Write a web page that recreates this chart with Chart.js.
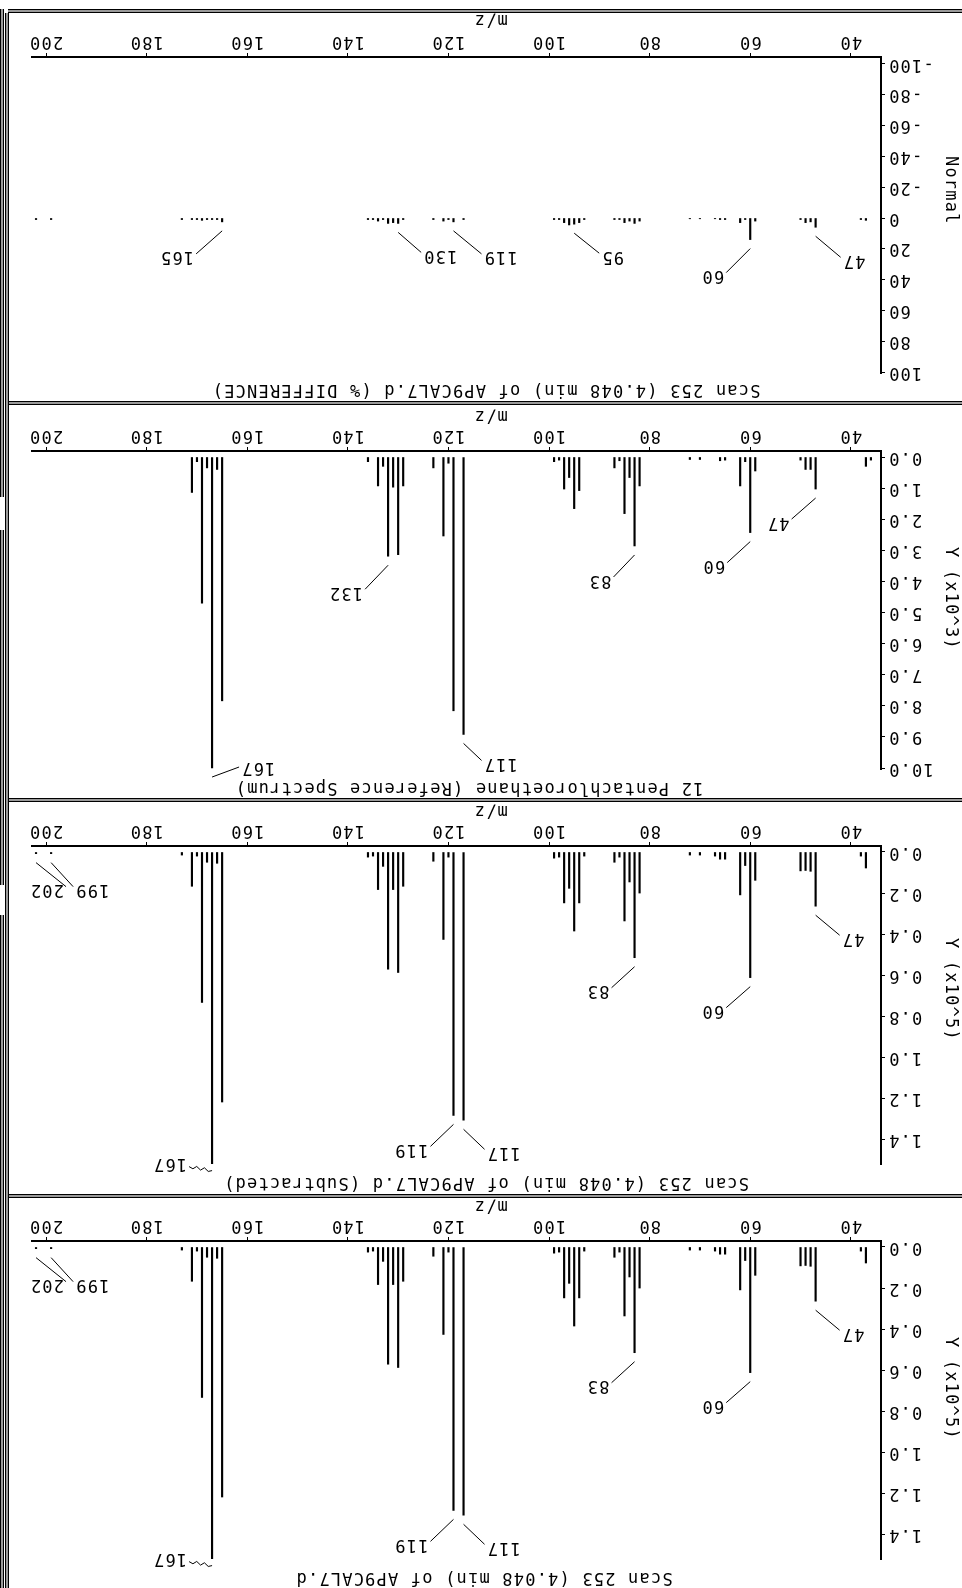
<!DOCTYPE html>
<html>
<head>
<meta charset="utf-8">
<title>Scan 253 - Pentachloroethane</title>
<script src="https://cdn.jsdelivr.net/npm/chart.js@4.4.1/dist/chart.umd.min.js"></script>
<style>
  html, body { margin: 0; padding: 0; background: #fff; }
  /* the whole printout is upside down, so the page is drawn normally and turned */
  #page { position: relative; width: 962px; height: 1588px; transform: rotate(180deg); background: #fff; overflow: hidden; }
  #page canvas { position: absolute; left: 0; }
  .hline { position: absolute; left: 0; width: 954px; height: 2px; border-top: 1px solid #000; border-bottom: 1px solid #000; background: #9a9a9a; }
  .vline { position: absolute; width: 2px; border-left: 1px solid #000; border-right: 1px solid #000; background: #9a9a9a; }
</style>
</head>
<body>
<div id="page">
  <canvas id="scan" width="962" height="395" style="top:0px"></canvas>
  <canvas id="subtracted" width="962" height="395" style="top:395px"></canvas>
  <canvas id="reference" width="962" height="395" style="top:790px"></canvas>
  <canvas id="difference" width="962" height="393" style="top:1186px"></canvas>

  <div class="hline" style="top:390px"></div>
  <div class="hline" style="top:786px"></div>
  <div class="hline" style="top:1183px"></div>
  <div class="hline" style="top:1575px"></div>
  <div class="vline" style="left:953px; top:0px; height:1575px"></div>
  <div class="vline" style="left:958px; top:0px; height:673px"></div>
  <div class="vline" style="left:958px; top:703px; height:355px"></div>
  <div class="vline" style="left:958px; top:1091px; height:488px"></div>
</div>

<script>
// m/z of every peak shown in any of the four panels
const mz = [36, 37, 38, 47, 48, 49, 50, 58, 59, 60, 61, 62, 65, 66, 67, 70, 72,
            82, 83, 84, 85, 86, 87, 93, 94, 95, 96, 97, 98, 99,
            117, 119, 120, 121, 123, 129, 130, 131, 132, 133, 134, 135, 136,
            165, 166, 167, 168, 169, 170, 171, 173, 199, 202];

// Scan 253 (4.048 min) of AP9CAL7.d, abundance
const scanValues = [0, 7800, 2000, 26400, 9400, 9000, 9200, 0, 13800, 61200, 6600, 20900, 3500, 3500, 2000, 1500, 1500,
                    20000, 51500, 14600, 33600, 2500, 5000, 2000, 24800, 38500, 17700, 24800, 2500, 3000,
                    130700, 128300, 2500, 42600, 4500, 16700, 58700, 18300, 57100, 7000, 18300, 2000, 2500,
                    121800, 5500, 151800, 5000, 73300, 2000, 16700, 1500, 800, 800];

// same scan, background subtracted
const subtractedValues = [0, 7800, 2000, 26400, 9400, 9000, 9200, 0, 13800, 61200, 6600, 20900, 3500, 3500, 2000, 1500, 1500,
                          20000, 51500, 14600, 33600, 2500, 5000, 2000, 24800, 38500, 17700, 24800, 2500, 3000,
                          130700, 128300, 2500, 42600, 4500, 16700, 58700, 18300, 57100, 7000, 18300, 2000, 2500,
                          121800, 5500, 151800, 5000, 73300, 2000, 16700, 1500, 800, 800];

// 12 Pentachloroethane, library reference spectrum
const referenceValues = [100, 300, 0, 1030, 400, 400, 100, 0, 450, 2430, 150, 930, 100, 120, 0, 80, 80,
                         930, 2860, 660, 1820, 120, 350, 0, 1080, 1660, 660, 1030, 100, 150,
                         8920, 8160, 200, 2540, 350, 930, 3140, 970, 3190, 300, 930, 0, 150,
                         7840, 400, 10000, 350, 4700, 150, 1140, 0, 0, 0];

// % difference between scan and reference
const differenceValues = [0, 1.5, 1, 6, 2.5, 3, 1, 0, 2, 14, 1, 3, 1, 1, 0.5, 0.5, 0.5,
                          2, 3.5, 2, 3, 1, 1, 1, 3, 4, 4.5, 3, 1, 1,
                          1, 2.5, 1, 2, 1, 1, 3.5, 3, 3.5, 1, 2, 1, 1,
                          2.5, 1, 1, 1, 1.5, 1, 1, 1, 1, 1];

const xTicks = [40, 60, 80, 100, 120, 140, 160, 180, 200];
const yTicksScan = [0, 20000, 40000, 60000, 80000, 100000, 120000, 140000];
const yTicksRef = [0, 1000, 2000, 3000, 4000, 5000, 6000, 7000, 8000, 9000, 10000];
const yTicksDiff = [-100, -80, -60, -40, -20, 0, 20, 40, 60, 80, 100];

// which peaks carry an m/z label, and where the leader goes
const scanLabels = [
  { mz: 47, dx: -24, dy: -20, align: 'right' },
  { mz: 60, dx: 24, dy: -21, align: 'left' },
  { mz: 83, dx: 23, dy: -21, align: 'left' },
  { mz: 117, dx: -21, dy: -20, align: 'right' },
  { mz: 119, dx: 23, dy: -22, align: 'left' },
  { mz: 167, dx: 23, dy: 4, align: 'left', gap: 7, ty: 3, wavy: true },
  { mz: 199, dx: -22, dy: -24, align: 'right' },
  { mz: 202, dx: -30, dy: -24, align: 'left' }
];
const refLabels = [
  { mz: 47, dx: 24, dy: -21, align: 'left' },
  { mz: 60, dx: 23, dy: -21, align: 'left' },
  { mz: 83, dx: 21, dy: -22, align: 'left' },
  { mz: 117, dx: -18, dy: -17, align: 'right' },
  { mz: 132, dx: 23, dy: -24, align: 'left' },
  { mz: 167, dx: -27, dy: 10, align: 'right', ty: 0 }
];
const diffLabels = [
  { mz: 47, dx: -25, dy: -21, align: 'right' },
  { mz: 60, dx: 24, dy: -24, align: 'left' },
  { mz: 95, dx: -25, dy: -20, align: 'right' },
  { mz: 119, dx: -28, dy: -23, align: 'right' },
  { mz: 130, dx: -23, dy: -20, align: 'right' },
  { mz: 165, dx: 26, dy: -23, align: 'left' }
];

const FONT = '17px "DejaVu Sans Mono", monospace';

Chart.defaults.font.family = '"DejaVu Sans Mono", monospace';
Chart.defaults.font.size = 17;
Chart.defaults.color = '#000';

const panels = [
  { id: 'scan', values: scanValues, yTicks: yTicksScan, min: -2920, max: 152000,
    fmt: v => (v / 1e5).toFixed(1), labels: scanLabels,
    title: 'Scan 253 (4.048 min) of AP9CAL7.d', titleX: 478, titleY: 11,
    yTitle: 'Y (x10^5)', yTitleY: 251 },
  { id: 'subtracted', values: subtractedValues, yTicks: yTicksScan, min: -2920, max: 152000,
    fmt: v => (v / 1e5).toFixed(1), labels: scanLabels,
    title: 'Scan 253 (4.048 min) of AP9CAL7.d (Subtracted)', titleX: 476, titleY: 11,
    yTitle: 'Y (x10^5)', yTitleY: 255 },
  { id: 'reference', values: referenceValues, yTicks: yTicksRef, min: -193, max: 10032,
    fmt: v => (v / 1e3).toFixed(1), labels: refLabels,
    title: '12 Pentachloroethane (Reference Spectrum)', titleX: 493, titleY: 11,
    yTitle: 'Y (x10^3)', yTitleY: 251 },
  { id: 'difference', values: differenceValues, yTicks: yTicksDiff, min: -104.5, max: 100.6,
    fmt: v => String(v), labels: diffLabels,
    title: 'Scan 253 (4.048 min) of AP9CAL7.d (% DIFFERENCE)', titleX: 476, titleY: 13,
    yTitle: 'Normal', yTitleY: 246 }
];

function wavyLine(ctx, x0, y0, x1, y1) {
  const n = 6;
  ctx.beginPath();
  ctx.moveTo(x0, y0);
  for (let k = 1; k <= n; k++) {
    const t = k / n;
    const off = k < n ? (k % 2 ? -1.5 : 1.5) : 0;
    ctx.lineTo(x0 + (x1 - x0) * t, y0 + (y1 - y0) * t + off);
  }
  ctx.stroke();
}

function decor(p, points) {
  return {
    id: 'decor',
    beforeDraw(chart) {
      chart.ctx.letterSpacing = '1.2px';
    },
    afterDatasetsDraw(chart) {
      const ctx = chart.ctx;
      const bars = chart.getDatasetMeta(0).data;
      ctx.save();
      ctx.strokeStyle = '#000';
      ctx.fillStyle = '#000';
      ctx.lineWidth = 1;
      ctx.font = FONT;
      ctx.textBaseline = 'middle';

      // peak labels with leaders
      p.labels.forEach(l => {
        const bar = bars[points.findIndex(d => d.x === l.mz)];
        if (!bar) return;
        const x0 = bar.x;
        const y0 = Math.min(bar.y, bar.base) - (l.gap ?? 9);
        const x1 = x0 + l.dx;
        const y1 = y0 + l.dy;
        if (l.wavy) {
          wavyLine(ctx, x0, y0, x1, y1);
        } else {
          ctx.beginPath();
          ctx.moveTo(x0, y0);
          ctx.lineTo(x1, y1);
          ctx.stroke();
        }
        ctx.textAlign = l.align;
        ctx.fillText(String(l.mz), l.align === 'left' ? x1 + 2 : x1 - 2, y1 + (l.ty ?? -3));
      });

      // panel title
      ctx.textAlign = 'center';
      ctx.fillText(p.title, p.titleX, p.titleY);

      // m/z axis title
      ctx.fillText('m/z', chart.scales.x.getPixelForValue(111.6), 383);

      // y axis title, reads bottom to top
      ctx.save();
      ctx.translate(12, p.yTitleY);
      ctx.rotate(-Math.PI / 2);
      ctx.textAlign = 'left';
      ctx.fillText(p.yTitle, 0, 0);
      ctx.restore();

      ctx.restore();
    }
  };
}

function buildPanel(p) {
  // peaks that are absent from this panel are left out
  const points = mz.map((m, i) => ({ x: m, y: p.values[i] })).filter(d => d.y !== 0);
  return new Chart(document.getElementById(p.id), {
    type: 'bar',
    data: {
      datasets: [{
        data: points,
        backgroundColor: '#000',
        borderWidth: 0,
        barThickness: 1.5
      }]
    },
    options: {
      responsive: false,
      animation: false,
      events: [],
      layout: { padding: { top: 29, right: 32, bottom: 0, left: 0 } },
      plugins: { legend: { display: false }, tooltip: { enabled: false } },
      scales: {
        x: {
          type: 'linear',
          min: 34,
          max: 202.8,
          offset: false,
          afterBuildTicks: s => { s.ticks = xTicks.map(v => ({ value: v })); },
          afterFit: s => { s.height = 48; s.paddingLeft = 0; s.paddingRight = 0; },
          ticks: { padding: 1, maxRotation: 0, autoSkip: false, callback: v => String(v) },
          grid: { drawOnChartArea: false, offset: false, tickLength: 4, tickColor: '#000', lineWidth: 1 },
          border: { color: '#000', width: 2 }
        },
        y: {
          min: p.min,
          max: p.max,
          afterBuildTicks: s => { s.ticks = p.yTicks.map(v => ({ value: v })); },
          afterFit: s => { s.width = 81; },
          ticks: { padding: 3, autoSkip: false, callback: p.fmt },
          grid: { drawOnChartArea: false, tickLength: 4, tickColor: '#000', lineWidth: 1 },
          border: { color: '#000', width: 2 }
        }
      }
    },
    plugins: [decor(p, points)]
  });
}

panels.forEach(buildPanel);
</script>
</body>
</html>
